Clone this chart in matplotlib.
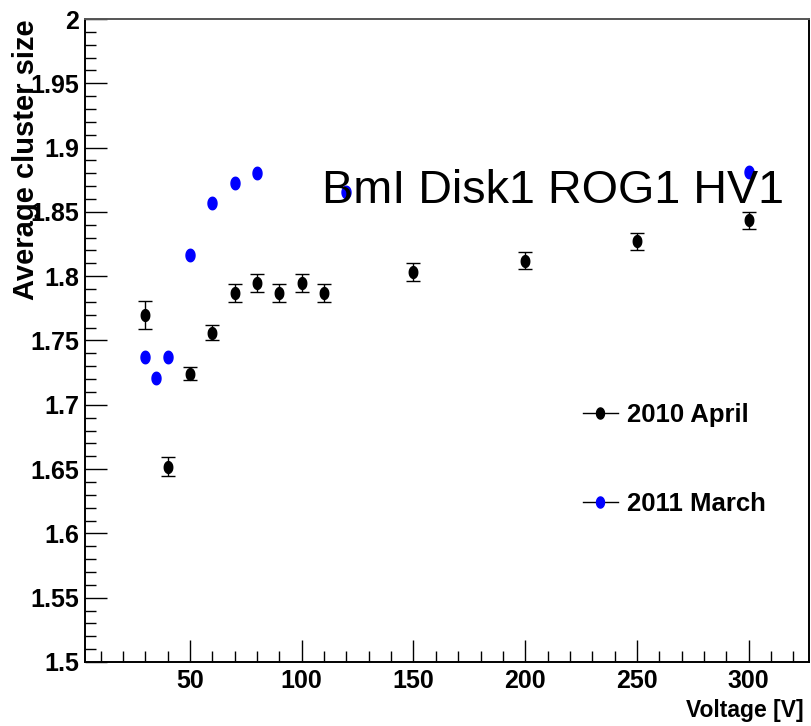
import numpy as np
from matplotlib import pyplot as plt
from matplotlib.path import Path
from matplotlib.lines import Line2D
from matplotlib.ticker import MultipleLocator, FormatStrFormatter

plt.rcParams['font.family'] = ['Liberation Sans', 'DejaVu Sans']

# 2010 April scan
volt_2010 = [30, 40, 50, 60, 70, 80, 90, 100, 110, 150, 200, 250, 300]
size_2010 = [1.770, 1.652, 1.724, 1.756, 1.787, 1.795, 1.787, 1.795, 1.787,
             1.803, 1.812, 1.827, 1.8435]
err_2010 = [0.011, 0.0077, 0.005, 0.006, 0.007, 0.007, 0.007, 0.007, 0.007,
            0.007, 0.0065, 0.0065, 0.0065]

# 2011 March scan
volt_2011 = [30, 35, 40, 50, 60, 70, 80, 120, 300]
size_2011 = [1.7375, 1.721, 1.7375, 1.8165, 1.857, 1.8728, 1.8806, 1.8655, 1.881]

labels = ['2010 April', '2011 March']
title = 'BmI Disk1 ROG1 HV1'


# -------------------------------------------------------------------------------
# Function - slightly tall ellipse, the markers in the picture are squeezed
# -------------------------------------------------------------------------------
def ellipse_marker(ratio=0.72):
    t = np.linspace(0, 2 * np.pi, 40)
    verts = np.column_stack([ratio * np.cos(t), np.sin(t)])
    return Path(verts, closed=True)


# -------------------------------------------------------------------------------
# Function - axis frame, ticks and labels in ROOT style
# -------------------------------------------------------------------------------
def style_axes(ax):
    ax.set_xlim(3, 327)
    ax.set_ylim(1.5, 2.0)
    ax.xaxis.set_major_locator(MultipleLocator(50))
    ax.xaxis.set_minor_locator(MultipleLocator(10))
    ax.yaxis.set_major_locator(MultipleLocator(0.05))
    ax.yaxis.set_minor_locator(MultipleLocator(0.01))
    ax.yaxis.set_major_formatter(FormatStrFormatter('%g'))

    ax.tick_params(which='both', direction='in', top=False, right=False,
                   width=1.0, color='black')
    ax.tick_params(which='major', length=15.5, labelsize=18)
    ax.tick_params(which='minor', length=8)
    ax.tick_params(axis='x', pad=5)
    ax.tick_params(axis='y', pad=4)
    for lab in ax.get_xticklabels() + ax.get_yticklabels():
        lab.set_fontweight('bold')

    for side in ['left', 'bottom', 'right']:
        ax.spines[side].set_linewidth(1.4)
        ax.spines[side].set_color('black')
    ax.spines['top'].set_linewidth(1.4)
    ax.spines['top'].set_color('#555555')

    ax.set_xlabel('Voltage [V]', fontsize=16.5, fontweight='bold', loc='right')
    ax.xaxis.set_label_coords(0.992, -0.057)
    ax.set_ylabel('Average cluster size', fontsize=21, fontweight='bold', loc='top')
    ax.yaxis.set_label_coords(-0.062, 1.0)


# -------------------------------------------------------------------------------
# Main Function
# -------------------------------------------------------------------------------
def main():
    fig = plt.figure(figsize=(8.11, 7.26), dpi=100)
    ax = fig.add_axes([0.1048, 0.0882, 0.8927, 0.8856])
    mk = ellipse_marker()

    ax.errorbar(volt_2010, size_2010, yerr=err_2010, fmt='none', ecolor='black',
                elinewidth=1.0, capsize=5, capthick=1.0, zorder=3)
    ax.plot(volt_2010, size_2010, linestyle='none', marker=mk, markersize=8.5,
            color='black', zorder=4)
    ax.plot(volt_2011, size_2011, linestyle='none', marker=mk, markersize=9,
            color='#0000ff', zorder=4)

    fig.text(321.7 / 811, 1 - 202.7 / 726, title, fontsize=33.7,
             va='baseline', ha='left', zorder=5)

    handles = [Line2D([], [], color='black', lw=1.0, marker=mk, markersize=8,
                      mfc='black', mec='black'),
               Line2D([], [], color='black', lw=1.0, marker=mk, markersize=8,
                      mfc='#0000ff', mec='#0000ff')]
    ax.legend(handles, labels, loc='upper left', bbox_to_anchor=(583 / 811, 1 - 403 / 726),
              bbox_transform=fig.transFigure, frameon=False, borderpad=0,
              borderaxespad=0, handlelength=1.35, handletextpad=0.35,
              labelspacing=2.52, prop={'size': 18.5, 'weight': 'bold'})

    style_axes(ax)
    fig.savefig('out.png', dpi=100)


if __name__ == '__main__':
    main()
